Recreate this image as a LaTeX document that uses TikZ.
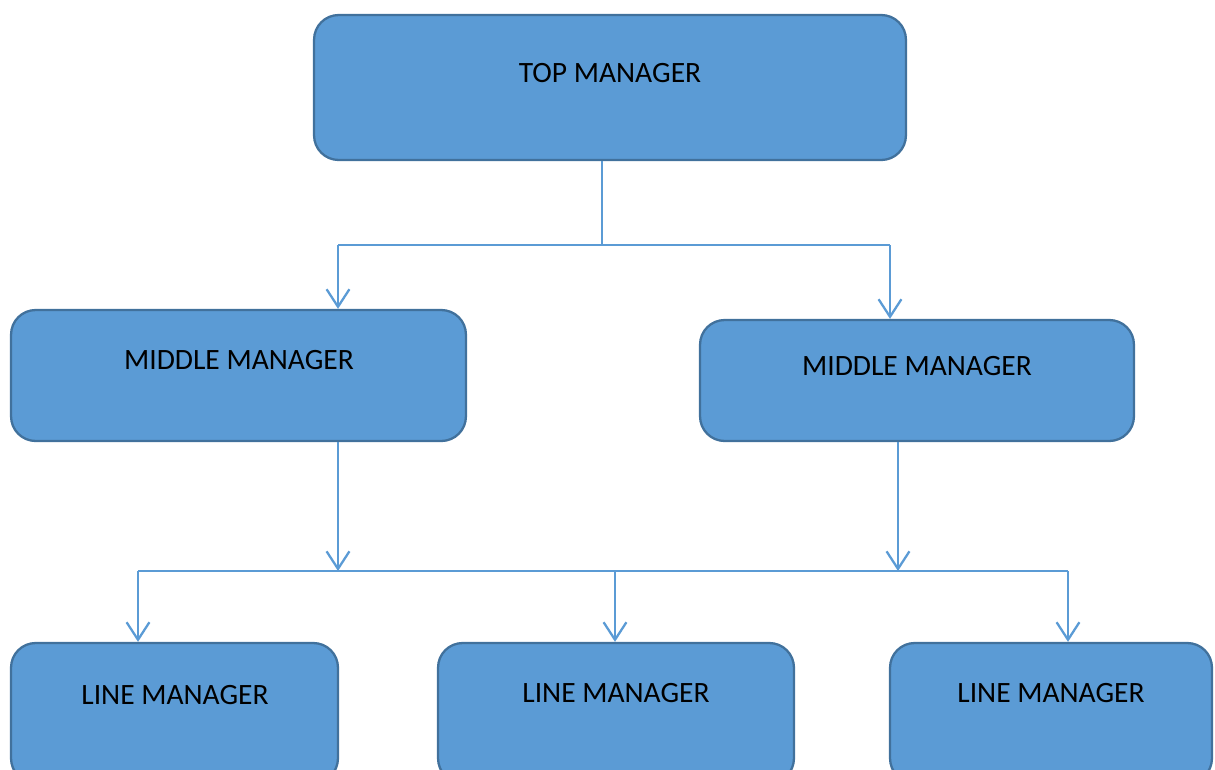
\documentclass[tikz,border=0pt]{standalone}
\usepackage{fontspec}
\setmainfont{Carlito}
\usetikzlibrary{arrows.meta}
\definecolor{boxfill}{HTML}{5B9BD5}
\definecolor{boxline}{HTML}{41719C}
\tikzset{
  mgr/.style={draw=boxline, line width=1.3pt, fill=boxfill, rounded corners=14pt},
  lbl/.style={font=\fontsize{16.8}{20}\selectfont, text=black},
  link/.style={draw=boxfill, line width=0.7pt},
  arr/.style={draw=boxfill, line width=1.3pt, -{Straight Barb[length=10pt, width=13pt, line width=1.3pt]}}
}
\begin{document}
\begin{tikzpicture}[x=0.02cm, y=-0.02cm]
\useasboundingbox (0,0) rectangle (1215,769);
\node [mgr, minimum width=11.84cm, minimum height=2.9cm] (top) at (610,87.5) {};
\node [mgr, minimum width=9.1cm, minimum height=2.62cm] (midL) at (238.5,375.5) {};
\node [mgr, minimum width=8.68cm, minimum height=2.42cm] (midR) at (917,380.5) {};
\node [mgr, minimum width=6.54cm, minimum height=2.8cm] (lineL) at (174.5,713) {};
\node [mgr, minimum width=7.12cm, minimum height=2.8cm] (lineM) at (616,713) {};
\node [mgr, minimum width=6.44cm, minimum height=2.8cm] (lineR) at (1051,713) {};
\node [lbl] (topT) at (610,73) {TOP MANAGER};
\node [lbl] (midLT) at (239,360) {MIDDLE MANAGER};
\node [lbl] (midRT) at (917,366) {MIDDLE MANAGER};
\node [lbl] (lineLT) at (175,695) {LINE MANAGER};
\node [lbl] (lineMT) at (616,693) {LINE MANAGER};
\node [lbl] (lineRT) at (1051,693) {LINE MANAGER};
% top to middle
\coordinate (t) at (602,245);
\coordinate (jL) at (338,245);
\coordinate (jR) at (890,245);
\draw [link] (top.south -| t) -- (t);
\draw [link] (jL) -- (jR);
\draw [arr] (jL) -- (jL |- midL.north);
\draw [arr] (jR) -- (jR |- midR.north);
% middle to line
\coordinate (kL) at (338,571);
\coordinate (kR) at (898,571);
\coordinate (b1) at (138,571);
\coordinate (b2) at (615,571);
\coordinate (b3) at (1068,571);
\draw [arr] (midL.south -| kL) -- (kL);
\draw [arr] (midR.south -| kR) -- (kR);
\draw [link] (b1) -- (b3);
\foreach \b/\n in {b1/lineL,b2/lineM,b3/lineR} {\draw [arr] (\b) -- (\b |- \n.north);}
\end{tikzpicture}
\end{document}
